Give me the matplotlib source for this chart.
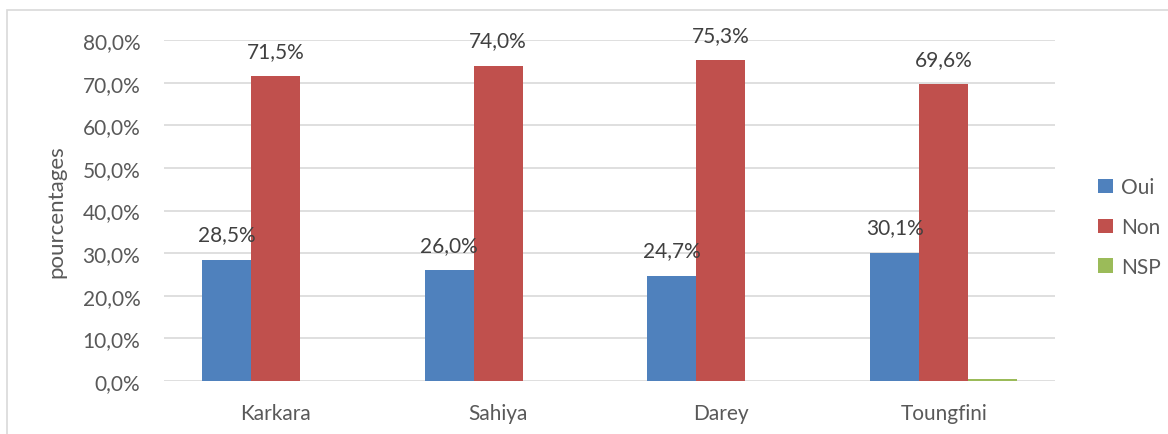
import matplotlib.pyplot as plt
from matplotlib.patches import Rectangle

# data
categories = ['Karkara', 'Sahiya', 'Darey', 'Toungfini']
oui = [28.5, 26.0, 24.7, 30.1]
non = [71.5, 74.0, 75.3, 69.6]
nsp = [0.0, 0.0, 0.0, 0.4]
series_names = ['Oui', 'Non', 'NSP']
yticks = [0, 10, 20, 30, 40, 50, 60, 70, 80]

colors = ['#4f81bd', '#c0504d', '#9bbb59']
txt = '#595959'

plt.rcParams['font.family'] = ['Lato', 'DejaVu Sans']

fig = plt.figure(figsize=(11.68, 4.35), dpi=100)
ax = fig.add_axes([0.1404, 0.1218, 0.763, 0.7839])

# chart border (light gray, only left and top visible)
fig.patches.append(Rectangle((0.006, -0.1), 1.1, 0.9747 + 0.1, transform=fig.transFigure,
                             fill=False, edgecolor='#d9d9d9', linewidth=1.2))

w = 0.22
x = list(range(len(categories)))
b1 = ax.bar([i - w for i in x], oui, w, color=colors[0], label=series_names[0], zorder=3)
b2 = ax.bar(x, non, w, color=colors[1], label=series_names[1], zorder=3)
b3 = ax.bar([i + w for i in x], nsp, w, color=colors[2], label=series_names[2], zorder=3)

for bars in (b1, b2):
    for r in bars:
        h = r.get_height()
        ax.text(r.get_x() + r.get_width() / 2, h + 3.6, ('%.1f%%' % h).replace('.', ','),
                ha='center', va='bottom', fontsize=15, color='#404040', zorder=4)

ax.set_xlim(-0.5, 3.5)
ax.set_ylim(0, 80)
ax.set_yticks(yticks)
ax.set_yticklabels([('%.1f%%' % v).replace('.', ',') for v in yticks])
ax.set_xticks(x)
ax.set_xticklabels(categories)
ax.tick_params(axis='both', length=0, labelsize=15, colors=txt)
ax.tick_params(axis='y', pad=17)
ax.tick_params(axis='x', pad=16)
ax.grid(axis='y', color='#d9d9d9', linewidth=1.2, zorder=0)
for s in ax.spines.values():
    s.set_visible(False)
ax.set_ylabel('pourcentages', fontsize=16, color=txt, labelpad=12)

ax.legend(loc='upper left', bbox_to_anchor=(0.924, 0.633), bbox_transform=fig.transFigure,
          frameon=False, fontsize=15, labelcolor=txt, handlelength=0.7, handleheight=0.7,
          handletextpad=0.4, labelspacing=0.95)

fig.savefig('out.png', dpi=100)
